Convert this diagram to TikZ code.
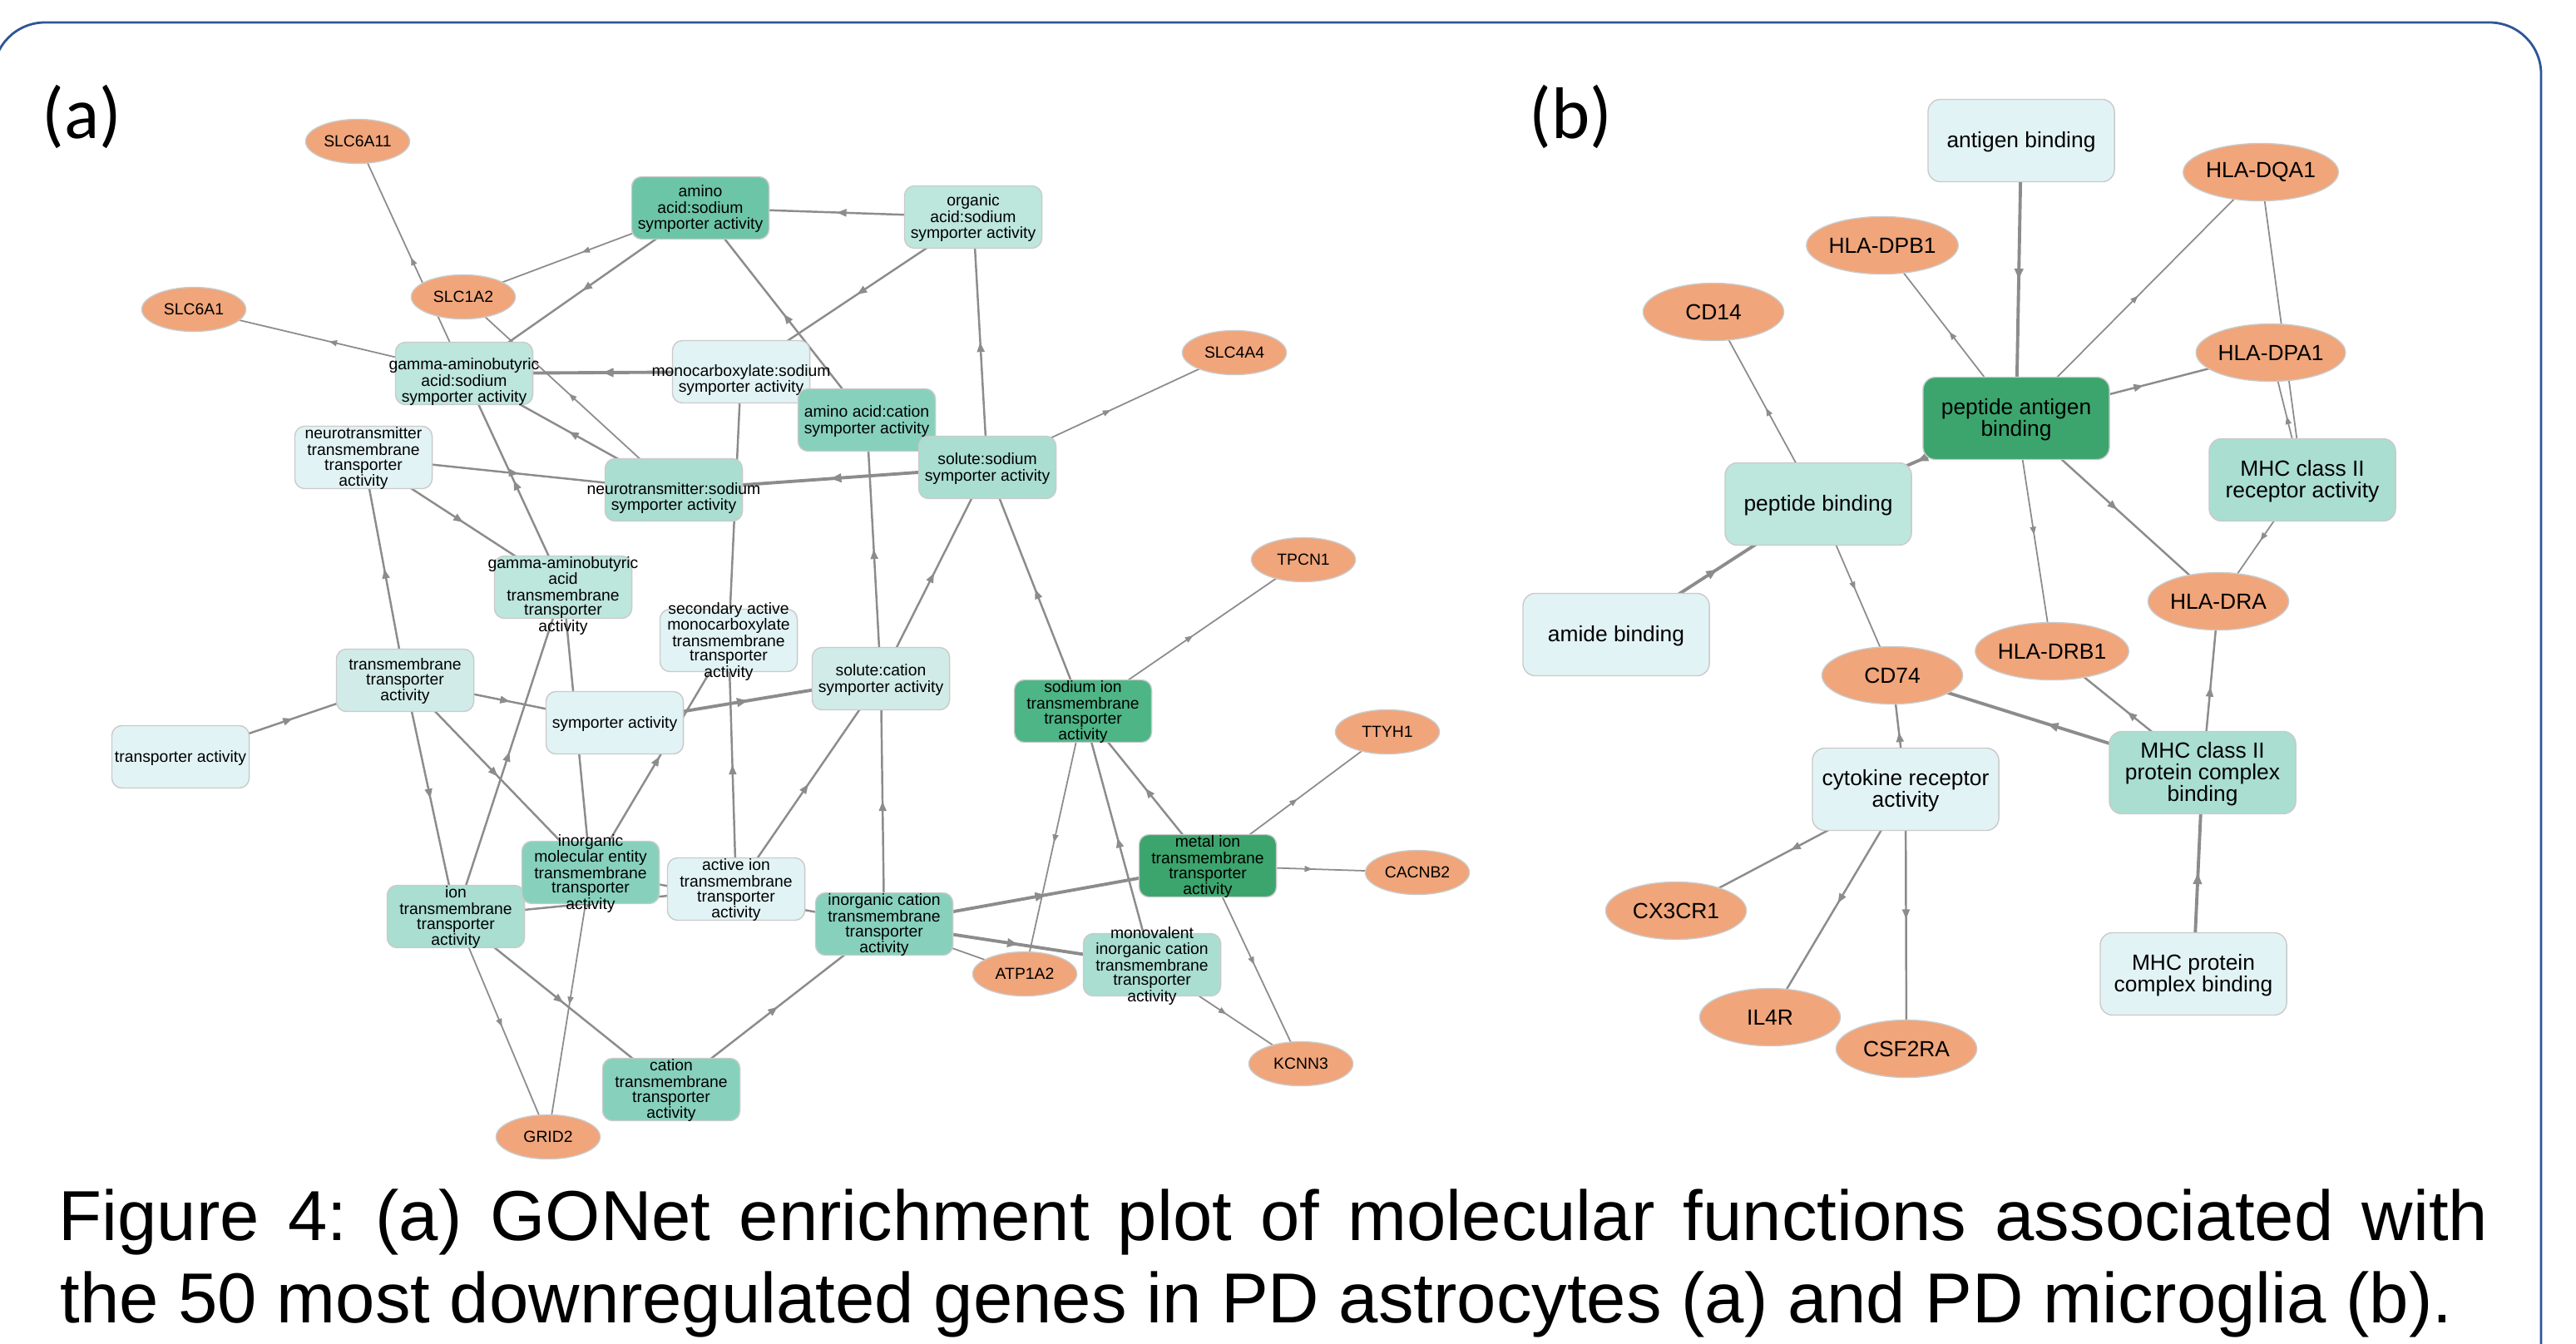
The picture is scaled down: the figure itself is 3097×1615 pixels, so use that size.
\documentclass[tikz,border=0pt]{standalone}
\usepackage{fontspec}
\setmainfont{Liberation Sans}
\newfontfamily\panelfont{Carlito}
\usetikzlibrary{shapes.geometric,arrows.meta,decorations.markings}

\definecolor{frameblue}{HTML}{2F5597}
\definecolor{edgegray}{HTML}{8C8C8C}
\definecolor{boxline}{HTML}{CACACA}
\definecolor{gene}{HTML}{F0A57A}
\definecolor{go0}{HTML}{E2F3F5}
\definecolor{go1}{HTML}{D1ECE8}
\definecolor{go2}{HTML}{BDE6DD}
\definecolor{go3}{HTML}{A9DED1}
\definecolor{go4}{HTML}{87D1BC}
\definecolor{go5}{HTML}{6CC5A6}
\definecolor{go6}{HTML}{4DB586}
\definecolor{go7}{HTML}{3BA56D}

\pgfdeclarelayer{edgelayer}
\pgfsetlayers{edgelayer,main}

% term label, centred on its box and free to spill over the box edges
\newcommand{\golabel}[2][0]{\makebox[0pt]{\smash{\raisebox{\dimexpr-.33em-#1\baselineskip\relax}{\begin{tabular}{@{}c@{}}#2\end{tabular}}}}}

\tikzset{
  term/.style={rectangle, rounded corners=1.2mm, draw=boxline, line width=0.4pt,
    minimum width=1.65cm, minimum height=0.75cm, inner sep=0pt,
    font=\fontsize{5.5}{5.1}\selectfont},
  gene/.style={ellipse, draw=boxline, fill=gene, line width=0.4pt,
    minimum width=1.25cm, minimum height=0.53cm, inner sep=0pt,
    font=\fontsize{5.5}{5.1}\selectfont},
  bigterm/.style={term, rounded corners=1.5mm, minimum width=2.24cm, minimum height=0.99cm,
    font=\fontsize{7.5}{6.7}\selectfont},
  biggene/.style={gene, minimum width=1.69cm, minimum height=0.69cm,
    font=\fontsize{7.5}{6.7}\selectfont},
  goedge/.style={color=edgegray, line width=0.7pt,
    >={Triangle[length=3.3pt,width=2.5pt]},
    postaction={decorate,decoration={markings,mark=at position 0.5 with {\arrow{>}}}}},
  geneedge/.style={goedge, line width=0.5pt, >={Triangle[length=2.7pt,width=2pt]}},
  heavyedge/.style={goedge, line width=1.1pt, >={Triangle[length=3.7pt,width=2.9pt]}},
  panellabel/.style={inner sep=0pt, font=\panelfont\fontsize{25}{30}\selectfont},
  caption/.style={inner sep=0pt, font=\fontsize{24.2}{29}\selectfont\frenchspacing}
}

\begin{document}
\begin{tikzpicture}[x=0.01cm, y=-0.01cm]
  \useasboundingbox (0,0) rectangle (3097,1615);
  \draw[frameblue, line width=0.8pt, rounded corners=6.2mm] (-8,1720) rectangle (3055,27);

  \node[panellabel, anchor=base west] (labela) at (50,166) {(a)};
  \node[panellabel, anchor=base west] (labelb) at (1838,166) {(b)};

  % Nodes (a): GO terms
  \node[term, fill=go5] (aasod) at (842,250) {\golabel{amino\\acid:sodium\\symporter activity}};
  \node[term, fill=go2] (orgac) at (1170,261) {\golabel{organic\\acid:sodium\\symporter activity}};
  \node[term, fill=go0] (monoc) at (891,447) {\golabel[0.5]{monocarboxylate:sodium\\symporter activity}};
  \node[term, fill=go4] (aacat) at (1042,505) {\golabel{amino acid:cation\\symporter activity}};
  \node[term, fill=go3] (solsod) at (1187,562) {\golabel{solute:sodium\\symporter activity}};
  \node[term, fill=go3] (ntsod) at (810,589) {\golabel[0.5]{neurotransmitter:sodium\\symporter activity}};
  \node[term, fill=go2] (gabasod) at (558,449) {\golabel[0.5]{gamma-aminobutyric\\acid:sodium\\symporter activity}};
  \node[term, fill=go0] (nttm) at (437,550) {\golabel{neurotransmitter\\transmembrane\\transporter\\activity}};
  \node[term, fill=go2] (gabatm) at (677,706) {\golabel[0.5]{gamma-aminobutyric\\acid\\transmembrane\\transporter\\activity}};
  \node[term, fill=go0] (secmono) at (876,770) {\golabel{secondary active\\monocarboxylate\\transmembrane\\transporter\\activity}};
  \node[term, fill=go1] (solcat) at (1059,816) {\golabel{solute:cation\\symporter activity}};
  \node[term, fill=go0] (symp) at (739,869) {\golabel{symporter activity}};
  \node[term, fill=go1] (tmta) at (487,818) {\golabel{transmembrane\\transporter\\activity}};
  \node[term, fill=go0] (ta) at (217,910) {\golabel{transporter activity}};
  \node[term, fill=go3] (iontm) at (548,1102) {\golabel{ion\\transmembrane\\transporter\\activity}};
  \node[term, fill=go4] (inorgme) at (710,1049) {\golabel{inorganic\\molecular entity\\transmembrane\\transporter\\activity}};
  \node[term, fill=go0] (activeion) at (885,1069) {\golabel{active ion\\transmembrane\\transporter\\activity}};
  \node[term, fill=go4] (inorgcat) at (1063,1111) {\golabel{inorganic cation\\transmembrane\\transporter\\activity}};
  \node[term, fill=go4] (catm) at (807,1310) {\golabel{cation\\transmembrane\\transporter\\activity}};
  \node[term, fill=go3] (monoval) at (1385,1160) {\golabel{monovalent\\inorganic cation\\transmembrane\\transporter\\activity}};
  \node[term, fill=go7] (metal) at (1452,1041) {\golabel{metal ion\\transmembrane\\transporter\\activity}};
  \node[term, fill=go6] (sodion) at (1302,855) {\golabel{sodium ion\\transmembrane\\transporter\\activity}};

  % Nodes (a): genes
  \node[gene] (slc6a11) at (430,170) {SLC6A11};
  \node[gene] (slc6a1) at (233,372) {SLC6A1};
  \node[gene] (slc1a2) at (557,357) {SLC1A2};
  \node[gene] (slc4a4) at (1484,424) {SLC4A4};
  \node[gene] (tpcn1) at (1567,673) {TPCN1};
  \node[gene] (ttyh1) at (1668,880) {TTYH1};
  \node[gene] (cacnb2) at (1704,1049) {CACNB2};
  \node[gene] (kcnn3) at (1564,1279) {KCNN3};
  \node[gene] (atp1a2) at (1232,1171) {ATP1A2};
  \node[gene] (grid2) at (659,1367) {GRID2};

  % Nodes (b): GO terms
  \node[bigterm, fill=go0] (agb) at (2430,169) {\golabel{antigen binding}};
  \node[bigterm, fill=go7] (pab) at (2424,503) {\golabel{peptide antigen\\binding}};
  \node[bigterm, fill=go2] (pb) at (2186,606) {\golabel{peptide binding}};
  \node[bigterm, fill=go3] (mhcrec) at (2768,577) {\golabel{MHC class II\\receptor activity}};
  \node[bigterm, fill=go0] (amb) at (1943,763) {\golabel{amide binding}};
  \node[bigterm, fill=go0] (cyto) at (2291,949) {\golabel{cytokine receptor\\activity}};
  \node[bigterm, fill=go3] (mhcpcb) at (2648,929) {\golabel{MHC class II\\protein complex\\binding}};
  \node[bigterm, fill=go0] (mhcpb) at (2637,1171) {\golabel{MHC protein\\complex binding}};

  % Nodes (b): genes
  \node[biggene] (dqa1) at (2718,207) {HLA-DQA1};
  \node[biggene] (dpb1) at (2263,295) {HLA-DPB1};
  \node[biggene] (cd14) at (2060,375) {CD14};
  \node[biggene] (dpa1) at (2730,424) {HLA-DPA1};
  \node[biggene] (dra) at (2667,723) {HLA-DRA};
  \node[biggene] (drb1) at (2467,783) {HLA-DRB1};
  \node[biggene] (cd74) at (2275,812) {CD74};
  \node[biggene] (cx3cr1) at (2015,1095) {CX3CR1};
  \node[biggene] (il4r) at (2128,1223) {IL4R};
  \node[biggene] (csf2ra) at (2292,1261) {CSF2RA};

  % Edges, centre to centre, under the nodes
  \begin{pgfonlayer}{edgelayer}
    % (a)
    \draw[geneedge] (gabasod.center) -- (slc6a11.center);
    \draw[geneedge] (gabasod.center) -- (slc6a1.center);
    \draw[geneedge] (aasod.center) -- (slc1a2.center);
    \draw[geneedge] (ntsod.center) -- (slc1a2.center);
    \draw[geneedge] (solsod.center) -- (slc4a4.center);
    \draw[geneedge] (sodion.center) -- (tpcn1.center);
    \draw[geneedge] (sodion.center) -- (atp1a2.center);
    \draw[geneedge] (metal.center) -- (ttyh1.center);
    \draw[geneedge] (metal.center) -- (cacnb2.center);
    \draw[geneedge] (metal.center) -- (kcnn3.center);
    \draw[geneedge] (monoval.center) -- (kcnn3.center);
    \draw[geneedge] (inorgcat.center) -- (atp1a2.center);
    \draw[geneedge] (inorgme.center) -- (grid2.center);
    \draw[geneedge] (iontm.center) -- (grid2.center);
    \draw[goedge] (aasod.center) -- (gabasod.center);
    \draw[heavyedge] (monoc.center) -- (gabasod.center);
    \draw[goedge] (ntsod.center) -- (gabasod.center);
    \draw[goedge] (gabatm.center) -- (gabasod.center);
    \draw[goedge] (nttm.center) -- (ntsod.center);
    \draw[goedge] (nttm.center) -- (gabatm.center);
    \draw[goedge] (tmta.center) -- (nttm.center);
    \draw[goedge] (orgac.center) -- (aasod.center);
    \draw[goedge] (aacat.center) -- (aasod.center);
    \draw[goedge] (orgac.center) -- (monoc.center);
    \draw[goedge] (solsod.center) -- (orgac.center);
    \draw[goedge] (secmono.center) -- (monoc.center);
    \draw[heavyedge] (solsod.center) -- (ntsod.center);
    \draw[goedge] (solcat.center) -- (aacat.center);
    \draw[goedge] (solcat.center) -- (solsod.center);
    \draw[goedge] (sodion.center) -- (solsod.center);
    \draw[goedge] (metal.center) -- (sodion.center);
    \draw[goedge] (monoval.center) -- (sodion.center);
    \draw[heavyedge] (inorgcat.center) -- (metal.center);
    \draw[heavyedge] (inorgcat.center) -- (monoval.center);
    \draw[goedge] (catm.center) -- (inorgcat.center);
    \draw[goedge] (inorgcat.center) -- (solcat.center);
    \draw[goedge] (activeion.center) -- (solcat.center);
    \draw[goedge] (activeion.center) -- (secmono.center);
    \draw[heavyedge] (symp.center) -- (solcat.center);
    \draw[goedge] (inorgme.center) -- (secmono.center);
    \draw[goedge] (tmta.center) -- (symp.center);
    \draw[goedge] (ta.center) -- (tmta.center);
    \draw[goedge] (tmta.center) -- (iontm.center);
    \draw[goedge] (tmta.center) -- (inorgme.center);
    \draw[goedge] (iontm.center) -- (gabatm.center);
    \draw[goedge] (inorgme.center) -- (gabatm.center);
    \draw[goedge] (iontm.center) -- (catm.center);
    \draw[goedge] (iontm.center) -- (activeion.center);
    \draw[goedge] (inorgme.center) -- (inorgcat.center);
    % (b)
    \draw[heavyedge] (agb.center) -- (pab.center);
    \draw[geneedge] (pab.center) -- (dpb1.center);
    \draw[geneedge] (pab.center) -- (dqa1.center);
    \draw[goedge] (pab.center) -- (dpa1.center);
    \draw[geneedge] (mhcrec.center) -- (dqa1.center);
    \draw[geneedge] (mhcrec.center) -- (dpa1.center);
    \draw[heavyedge] (pab.center) -- (pb.center);
    \draw[geneedge] (pb.center) -- (cd14.center);
    \draw[heavyedge] (amb.center) -- (pb.center);
    \draw[geneedge] (pb.center) -- (cd74.center);
    \draw[geneedge] (pab.center) -- (drb1.center);
    \draw[goedge] (pab.center) -- (dra.center);
    \draw[geneedge] (mhcrec.center) -- (dra.center);
    \draw[goedge] (mhcpcb.center) -- (dra.center);
    \draw[goedge] (mhcpcb.center) -- (drb1.center);
    \draw[heavyedge] (mhcpcb.center) -- (cd74.center);
    \draw[goedge] (cyto.center) -- (cd74.center);
    \draw[goedge] (cyto.center) -- (cx3cr1.center);
    \draw[goedge] (cyto.center) -- (il4r.center);
    \draw[goedge] (cyto.center) -- (csf2ra.center);
    \draw[heavyedge] (mhcpb.center) -- (mhcpcb.center);
  \end{pgfonlayer}

  % Caption
  \node[caption, anchor=base west] (capone) at (70,1491) {\makebox[29.19cm][s]{Figure 4: (a) GONet enrichment plot of molecular functions associated with}};
  \node[caption, anchor=base west] (captwo) at (72,1590) {the 50 most downregulated genes in PD astrocytes (a) and PD microglia (b).};
\end{tikzpicture}
\end{document}
